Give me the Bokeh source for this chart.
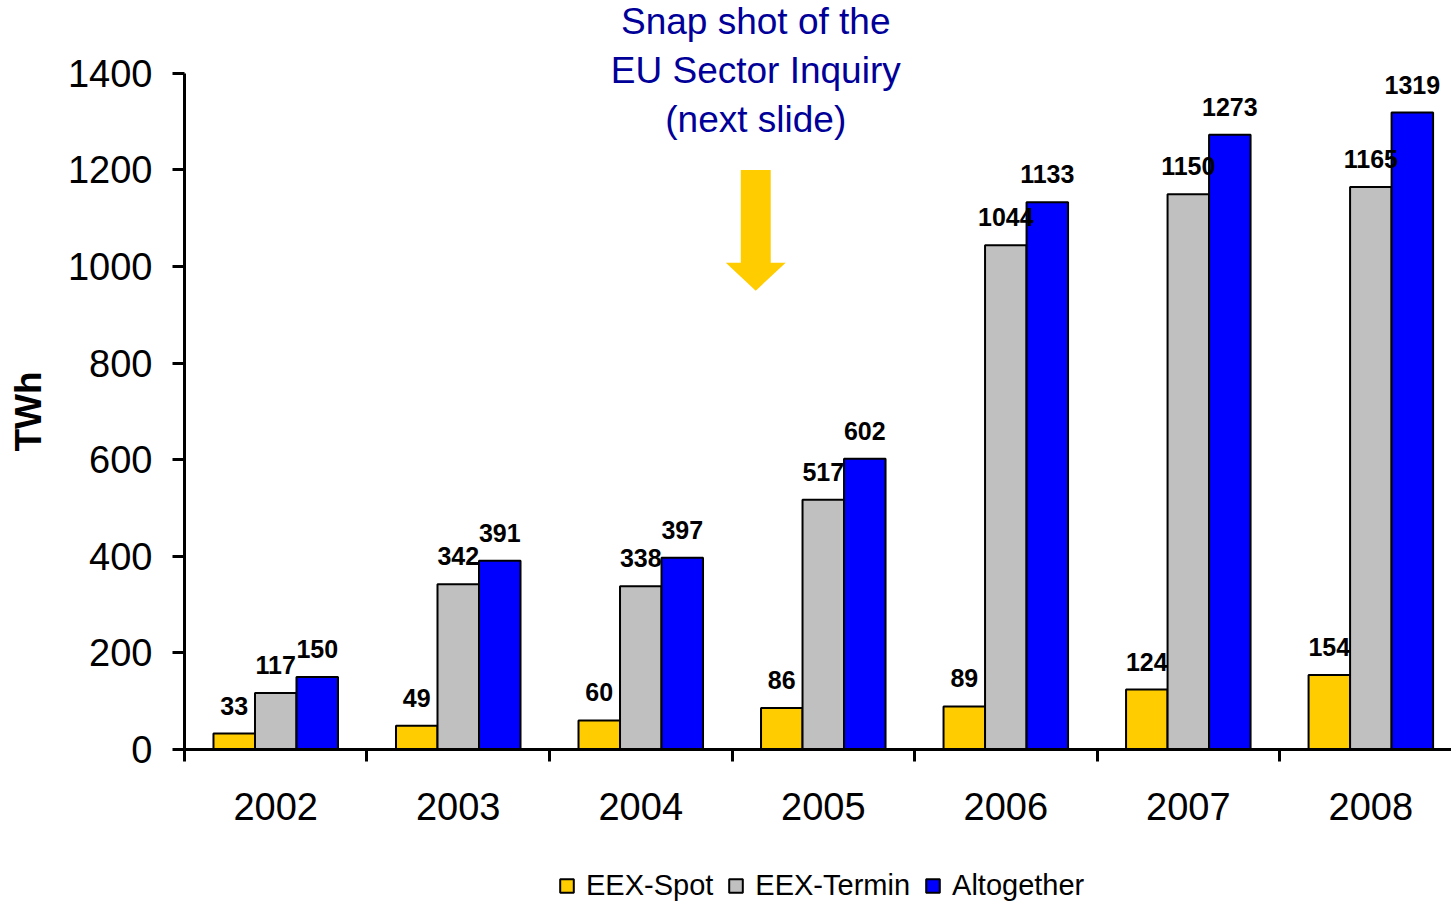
import numpy as np
from bokeh.plotting import figure
from bokeh.models import (ColumnDataSource, Range1d, FixedTicker, SingleIntervalTicker,
                          Legend, LegendItem, Label, PolyAnnotation)
from bokeh.transform import dodge
from bokeh.core.properties import value
from bokeh.embed import file_html
from bokeh.resources import INLINE

years = ["2002", "2003", "2004", "2005", "2006", "2007", "2008"]
spot = [33, 49, 60, 86, 89, 124, 154]
termin = [117, 342, 338, 517, 1044, 1150, 1165]
total = [150, 391, 397, 602, 1133, 1273, 1319]
series_names = ["EEX-Spot", "EEX-Termin", "Altogether"]
series_colors = ["#FFCC00", "#C0C0C0", "#0000FF"]
y_ticks = [0, 200, 400, 600, 800, 1000, 1200, 1400]
y_title = "TWh"
note_text = "Snap shot of the\nEU Sector Inquiry\n(next slide)"

FONT = "Liberation Sans"
BAR_W = 0.2274
# ranges chosen so the frame covers the whole canvas; axes sit at 0 via fixed_location
X_START, X_END = -1.008, 6.942
Y_START, Y_END = -319, 1551

centers = [i + 0.5 for i in range(len(years))]
source = ColumnDataSource(dict(
    x=centers, years=years, spot=spot, termin=termin, total=total,
    spot_t=[str(v) for v in spot], termin_t=[str(v) for v in termin],
    total_t=[str(v) for v in total],
))

p = figure(width=1451, height=903, output_backend="svg", toolbar_location=None,
           x_range=Range1d(X_START, X_END), y_range=Range1d(Y_START, Y_END),
           min_border_left=0, min_border_right=0, min_border_top=0,
           min_border_bottom=0)
p.outline_line_color = None
p.xgrid.grid_line_color = None
p.ygrid.grid_line_color = None
p.background_fill_color = "white"

cols = ["spot", "termin", "total"]
offsets = [-BAR_W, 0.0, BAR_W]
renderers = []
for col, off, color in zip(cols, offsets, series_colors):
    r = p.vbar(x=dodge("x", off, range=p.x_range), top=col, width=BAR_W, bottom=0,
               source=source, fill_color=color, line_color="black", line_width=2)
    renderers.append(r)
for col, off in zip(cols, offsets):
    p.text(x=dodge("x", off, range=p.x_range), y=col, text=col + "_t", source=source,
           text_align="center", text_baseline="alphabetic", y_offset=-28,
           text_font=value(FONT), text_font_style="bold", text_font_size="25px",
           text_color="black")

# y axis
ya = p.yaxis[0]
ya.fixed_location = 0
ya.ticker = SingleIntervalTicker(interval=200, num_minor_ticks=0)
ya.bounds = (min(y_ticks), max(y_ticks))
ya.axis_line_width = 3
ya.axis_line_color = "black"
ya.major_tick_line_width = 3
ya.major_tick_out = 12
ya.major_tick_in = 0
ya.minor_tick_line_color = None
ya.major_label_standoff = 20
ya.major_label_text_font = FONT
ya.major_label_text_font_size = "38px"
ya.major_label_text_color = "black"

# y title, centred on the axis span (0..1400)
p.add_layout(Label(x=-0.855, y=(min(y_ticks) + max(y_ticks)) / 2, text=y_title,
                   angle=np.pi / 2, text_align="center", text_baseline="middle",
                   text_font=FONT, text_font_style="bold", text_font_size="37px",
                   text_color="black"))

# x axis
xa = p.xaxis[0]
xa.fixed_location = 0
xa.bounds = (0, X_END)
xa.ticker = FixedTicker(ticks=centers, minor_ticks=list(range(len(years) + 1)))
xa.major_label_overrides = {c: y for c, y in zip(centers, years)}
xa.axis_line_width = 3
xa.axis_line_color = "black"
xa.major_tick_out = 0
xa.major_tick_in = 0
xa.major_tick_line_color = None
xa.minor_tick_out = 12
xa.minor_tick_in = 0
xa.minor_tick_line_width = 3
xa.minor_tick_line_color = "black"
xa.major_label_standoff = 32
xa.major_label_text_font = FONT
xa.major_label_text_font_size = "38px"
xa.major_label_text_color = "black"

# annotation text + arrow
NOTE_X = 3.13
p.add_layout(Label(x=NOTE_X, y=Y_END, text=note_text, text_align="center",
                   text_baseline="top", text_font=FONT, text_font_size="37px",
                   text_color="#000099", text_line_height=1.2, y_offset=0))
SHAFT_TOP, HEAD_BASE, TIP = 1200, 1008, 950
SHAFT_HW, HEAD_HW = 0.082, 0.164
p.add_layout(PolyAnnotation(
    xs=[NOTE_X - SHAFT_HW, NOTE_X + SHAFT_HW, NOTE_X + SHAFT_HW, NOTE_X + HEAD_HW,
        NOTE_X, NOTE_X - HEAD_HW, NOTE_X - SHAFT_HW],
    ys=[SHAFT_TOP, SHAFT_TOP, HEAD_BASE, HEAD_BASE, TIP, HEAD_BASE, HEAD_BASE],
    fill_color="#FFCC00", fill_alpha=1.0, line_color=None))

# legend below the axis (location in px from the frame's bottom-left)
legend = Legend(items=[LegendItem(label=n, renderers=[r]) for n, r in zip(series_names, renderers)],
                orientation="horizontal", location=(558, 1),
                label_text_font=FONT, label_text_font_size="29px", label_text_color="black",
                glyph_width=17, glyph_height=17, label_standoff=11, spacing=14,
                border_line_color=None, background_fill_alpha=0, margin=0, padding=0)
p.add_layout(legend)

open("out.html", "w").write(file_html(p, INLINE))
